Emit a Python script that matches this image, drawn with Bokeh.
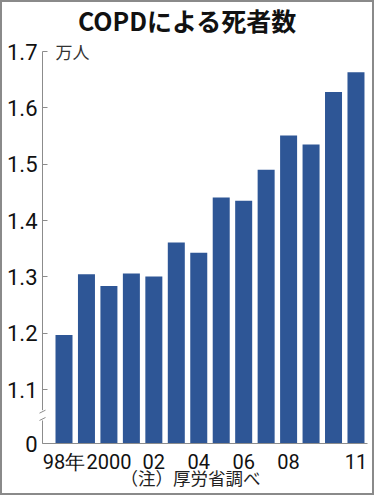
from bokeh.plotting import figure
from bokeh.models import FixedTicker, Label, Range1d
from bokeh.embed import file_html
from bokeh.resources import INLINE

# ---- data ----
years = ["98年", "99", "2000", "01", "02", "03", "04", "05", "06", "07", "08", "09", "10", "11"]
deaths = [1.197, 1.305, 1.284, 1.306, 1.301, 1.361, 1.343, 1.441, 1.435, 1.490, 1.551, 1.535, 1.628, 1.663]
x_tick_pos = [0, 2, 4, 6, 8, 10, 13]
x_tick_text = ["98年", "2000", "02", "04", "06", "08", "11"]
y_ticks = [1.1, 1.2, 1.3, 1.4, 1.5, 1.6, 1.7]
y_tick_text = ["1.1", "1.2", "1.3", "1.4", "1.5", "1.6", "1.7"]
zero_pos = 1.0045          # where "0" sits below the axis break
zero_text = "0"
title_text = "COPDによる死者数"
unit_text = "万人"
note_text = "（注）厚労省調べ"

BAR = "#2e5696"
GRID = "#8c8c8c"
NUM_FONT = "Roboto"
JP_FONT = "Noto Sans CJK JP"

# ---- layout (pixels, inside the 2px border) ----
W, H = 374, 495
AX_L = 40      # y axis position from left
TOP_Y = 49     # 1.7 position from top
BASE_Y = 441   # baseline position from top
XPX = 22.46    # pixels per category
AX_LEN = 325   # length of the x axis line

xs = list(range(len(years)))
x0 = -21.5 / XPX                  # y axis sits left of the first bar
x1 = x0 + AX_LEN / XPX
ymax = y_ticks[-1]
ypx = (BASE_Y - TOP_Y) / (ymax - zero_pos)
x_start = x0 - AX_L / XPX
x_end = x0 + (W - AX_L) / XPX
y_start = zero_pos - (H - BASE_Y) / ypx
y_end = ymax + TOP_Y / ypx

p = figure(width=W, height=H,
           x_range=Range1d(x_start, x_end), y_range=Range1d(y_start, y_end),
           output_backend="svg", toolbar_location=None,
           min_border_left=0, min_border_right=0,
           min_border_top=0, min_border_bottom=0,
           styles={"border": "2px solid #8a8a8a"})
p.xgrid.visible = False
p.ygrid.visible = False
p.outline_line_color = None
p.background_fill_color = "white"
p.border_fill_color = "white"

p.vbar(x=xs, top=deaths, bottom=zero_pos, width=0.757,
       fill_color=BAR, line_color=None)

# x axis
xa = p.xaxis[0]
xa.fixed_location = zero_pos
xa.bounds = (x0, x1)
xa.ticker = FixedTicker(ticks=x_tick_pos)
xa.major_label_overrides = {k: v for k, v in zip(x_tick_pos, x_tick_text)}
xa.major_tick_in = 0
xa.major_tick_out = 0
xa.minor_tick_line_color = None
xa.axis_line_color = GRID
xa.major_label_standoff = 6
xa.major_label_text_font = NUM_FONT
xa.major_label_text_font_size = "20px"
xa.major_label_text_color = "#111111"

# y axis
ya = p.yaxis[0]
ya.fixed_location = x0
ya.bounds = (zero_pos, ymax)
ya.ticker = FixedTicker(ticks=[zero_pos] + y_ticks)
ov = {zero_pos: zero_text}
ov.update({k: v for k, v in zip(y_ticks, y_tick_text)})
ya.major_label_overrides = ov
ya.major_tick_in = 5
ya.major_tick_out = 0
ya.major_tick_line_color = GRID
ya.minor_tick_line_color = None
ya.axis_line_color = GRID
ya.major_label_standoff = 5
ya.major_label_text_font = NUM_FONT
ya.major_label_text_font_size = "22px"
ya.major_label_text_color = "#111111"

# axis break on the y axis
yb_hi, yb_lo = 1.061, 1.048
dx, dy = 3 / XPX, 1.5 / ypx
p.segment(x0=[x0], y0=[yb_lo - dy], x1=[x0], y1=[yb_hi + dy],
          line_color="white", line_width=3, level="overlay")
p.segment(x0=[x0 - dx, x0 - dx], y0=[yb_hi - dy, yb_lo - dy],
          x1=[x0 + dx, x0 + dx], y1=[yb_hi + dy, yb_lo + dy],
          line_color=GRID, line_width=1, level="overlay")

# texts
p.add_layout(Label(x=x0 + (185 - AX_L) / XPX, y=ymax, y_offset=32, text=title_text,
                   text_align="center", text_baseline="middle",
                   text_font=JP_FONT, text_font_size="25px", text_font_style="bold",
                   text_color="#111111"))
p.add_layout(Label(x=x0, y=ymax, x_offset=13, text=unit_text,
                   text_align="left", text_baseline="middle",
                   text_font=JP_FONT, text_font_size="17px", text_color="#333333"))
p.add_layout(Label(x=x0 + (188 - AX_L) / XPX, y=zero_pos, y_offset=-34, text=note_text,
                   text_align="center", text_baseline="middle",
                   text_font=JP_FONT, text_font_size="17.5px", text_color="#222222"))

open("out.html", "w").write(file_html(p, INLINE))
